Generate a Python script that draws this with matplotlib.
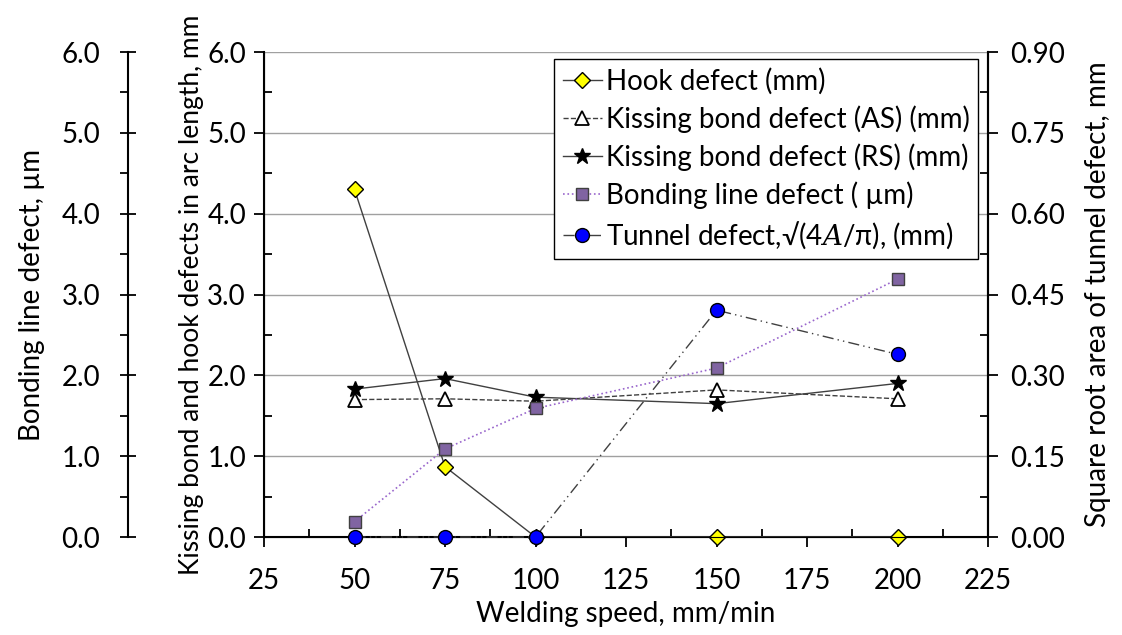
import numpy as np
import matplotlib.pyplot as plt
from matplotlib.ticker import MultipleLocator, FormatStrFormatter

plt.rcParams['font.family'] = ['Lato', 'DejaVu Sans']
plt.rcParams['mathtext.fontset'] = 'dejavuserif'

speed = [50, 75, 100, 150, 200]
hook = [4.30, 0.87, 0.0, 0.0, 0.0]
kiss_as = [1.70, 1.71, 1.68, 1.82, 1.71]
kiss_rs = [1.83, 1.96, 1.73, 1.65, 1.90]
bonding = [0.19, 1.09, 1.59, 2.09, 3.19]
tunnel = [0.0, 0.0, 0.0, 0.421, 0.339]

fig = plt.figure(figsize=(11.22, 6.35), dpi=100)
ax = fig.add_axes([0.2353, 0.1543, 0.6453, 0.7638])
axb = ax.twinx()
axr = ax.twinx()

fs = 20
# main axis
ax.set_xlim(25, 225)
ax.set_ylim(0, 6)
ax.xaxis.set_major_locator(MultipleLocator(25))
ax.xaxis.set_minor_locator(MultipleLocator(12.5))
ax.yaxis.set_major_locator(MultipleLocator(1))
ax.yaxis.set_minor_locator(MultipleLocator(0.5))
ax.yaxis.set_major_formatter(FormatStrFormatter('%.1f'))
ax.tick_params(which='major', direction='out', length=7, width=1.3, labelsize=fs, pad=6)
ax.tick_params(axis='x', which='major', pad=15)
ax.tick_params(which='minor', direction='in', length=6, width=1.3)
ax.grid(axis='y', which='major', color='#a0a0a0', lw=1)
ax.set_axisbelow(True)
ax.spines['top'].set_visible(False)
for s in ['left', 'bottom', 'right']:
    ax.spines[s].set_linewidth(1.5)
ax.set_xlabel('Welding speed, mm/min', fontsize=fs, labelpad=5)
ax.set_ylabel('Kissing bond and hook defects in arc length, mm', fontsize=19, labelpad=2)

# outer left axis (bonding line)
axb.set_ylim(0, 6)
axb.spines['left'].set_position(('axes', -0.1878))
axb.spines['left'].set_visible(True)
axb.spines['left'].set_linewidth(1.5)
axb.spines['right'].set_visible(False)
axb.spines['top'].set_visible(False)
axb.spines['bottom'].set_visible(False)
axb.yaxis.set_ticks_position('left')
axb.yaxis.set_label_position('left')
axb.yaxis.set_major_locator(MultipleLocator(1))
axb.yaxis.set_minor_locator(MultipleLocator(0.5))
axb.yaxis.set_major_formatter(FormatStrFormatter('%.1f'))
axb.tick_params(which='major', direction='inout', length=12, width=1.3, labelsize=fs, pad=14)
axb.tick_params(which='minor', direction='out', length=6, width=1.3)
axb.set_ylabel('Bonding line defect, µm', fontsize=fs, labelpad=12)

# right axis (tunnel)
axr.set_ylim(0, 0.9)
axr.spines['top'].set_visible(False)
axr.spines['right'].set_linewidth(1.5)
axr.yaxis.set_major_locator(MultipleLocator(0.15))
axr.yaxis.set_minor_locator(MultipleLocator(0.075))
axr.yaxis.set_major_formatter(FormatStrFormatter('%.2f'))
axr.tick_params(which='major', direction='out', length=7, width=1.3, labelsize=fs, pad=9)
axr.tick_params(which='minor', direction='in', length=6, width=1.3)
axr.set_ylabel('Square root area of tunnel defect, mm', fontsize=fs, labelpad=14)

h1, = ax.plot(speed, hook, '-', color='#404040', lw=1, marker='D', ms=8,
              mfc='#ffff00', mec='black', mew=1, label='Hook defect (mm)', clip_on=False, zorder=5)
h2, = ax.plot(speed, kiss_as, '--', color='#404040', lw=1, marker='^', ms=10,
              mfc='white', mec='black', mew=1.3, label='Kissing bond defect (AS) (mm)', clip_on=False)
h3, = ax.plot(speed, kiss_rs, '-', color='#404040', lw=1, marker='*', ms=12,
              mfc='black', mec='black', label='Kissing bond defect (RS) (mm)', clip_on=False)
h4, = axb.plot(speed, bonding, ':', color='#9966cc', lw=1.2, marker='s', ms=9,
               mfc='#8064a2', mec='#404040', mew=1, label='Bonding line defect ( µm)', clip_on=False)
h5, = axr.plot(speed, tunnel, color='#404040', lw=1, dashes=(8, 3, 1, 3, 1, 3), marker='o', ms=10,
               mfc='#0000ff', mec='black', mew=1, label='Tunnel defect,√(4$A$/π), (mm)', clip_on=False, zorder=6)

leg = axr.legend(handles=[h1, h2, h3, h4, h5], loc='upper right', bbox_to_anchor=(0.986, 0.985),
                 fontsize=fs, frameon=True, fancybox=False, edgecolor='black',
                 handlelength=1.4, handletextpad=0.15, borderpad=0.3, labelspacing=0.38,
                 borderaxespad=0)
leg.get_frame().set_linewidth(1)
leg.get_frame().set_alpha(1)

fig.savefig('out.png', dpi=100)
